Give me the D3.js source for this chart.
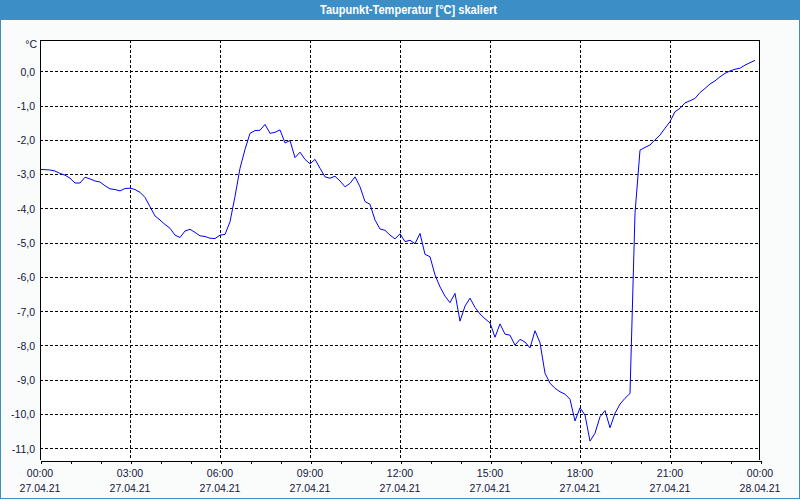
<!DOCTYPE html>
<html>
<head>
<meta charset="utf-8">
<script src="https://cdn.jsdelivr.net/npm/d3@7"></script>
<style>
  html, body { margin: 0; padding: 0; background: #f9fcfa; }
  svg { display: block; }
</style>
</head>
<body>
<svg id="chart" width="800" height="500"></svg>
<script>
// ---- data ----
const chartTitle = "Taupunkt-Temperatur [°C] skaliert";
const unitLabel = "°C";
const startHour = 0;        // 27.04.21 00:00
const stepMinutes = 10;     // sample interval
const dewPoint = [
  -2.86, -2.87, -2.88, -2.91, -2.98, -3.03, -3.12, -3.26, -3.26, -3.09,
  -3.14, -3.20, -3.23, -3.34, -3.43, -3.45, -3.49, -3.42, -3.41, -3.45,
  -3.53, -3.68, -3.95, -4.22, -4.34, -4.47, -4.58, -4.78, -4.85, -4.66,
  -4.61, -4.70, -4.80, -4.82, -4.87, -4.88, -4.78, -4.76, -4.39, -3.65,
  -2.83, -2.28, -1.81, -1.73, -1.72, -1.55, -1.81, -1.78, -1.71, -2.09,
  -2.02, -2.52, -2.36, -2.57, -2.70, -2.57, -2.83, -3.08, -3.12, -3.06,
  -3.20, -3.37, -3.27, -3.08, -3.37, -3.80, -3.88, -4.34, -4.60, -4.64,
  -4.78, -4.89, -4.74, -4.97, -4.93, -5.03, -4.73, -5.34, -5.41, -5.94,
  -6.29, -6.56, -6.75, -6.48, -7.29, -6.85, -6.62, -6.89, -7.08, -7.22,
  -7.34, -7.76, -7.37, -7.67, -7.70, -7.99, -7.82, -7.90, -8.07, -7.57,
  -7.92, -8.81, -9.10, -9.25, -9.35, -9.42, -9.57, -10.20, -9.82, -10.03,
  -10.79, -10.56, -10.08, -9.90, -10.40, -9.98, -9.71, -9.54, -9.40, -4.14,
  -2.30, -2.22, -2.15, -2.00, -1.86, -1.66, -1.47, -1.18, -1.08, -0.92,
  -0.86, -0.79, -0.62, -0.50, -0.37, -0.28, -0.16, -0.06, 0.01, 0.06,
  0.09, 0.18, 0.25, 0.32
];
const yTicks = [0, -1, -2, -3, -4, -5, -6, -7, -8, -9, -10, -11];
const hourTicks = [0,1,2,3,4,5,6,7,8,9,10,11,12,13,14,15,16,17,18,19,20,21,22,23,24];
const labelHours = [0, 3, 6, 9, 12, 15, 18, 21, 24];
const timeLabels = ["00:00","03:00","06:00","09:00","12:00","15:00","18:00","21:00","00:00"];
const dateLabels = ["27.04.21","27.04.21","27.04.21","27.04.21","27.04.21","27.04.21","27.04.21","27.04.21","28.04.21"];

// ---- layout ----
const W = 800, H = 500;
const plot = { left: 40, right: 760, top: 40, bottom: 460 };
const svg = d3.select("#chart");

const x = d3.scaleLinear().domain([0, 24]).range([plot.left, plot.right]);
const y = d3.scaleLinear().domain([0, -11]).range([71.3, 448.3]);

// outer frame
svg.append("rect").attr("x", 0.5).attr("y", 0.5).attr("width", W - 1).attr("height", H - 2)
  .attr("fill", "#f9fcfa").attr("stroke", "#3c8fc6").attr("stroke-width", 1);

// title bar
svg.append("rect").attr("x", 0).attr("y", 0).attr("width", W).attr("height", 20).attr("fill", "#3c8fc6");
svg.append("text").attr("x", 408.5).attr("y", 14)
  .attr("text-anchor", "middle").attr("fill", "#ffffff")
  .attr("font-family", "Liberation Sans, Arial, sans-serif").attr("font-size", 12).attr("font-weight", "bold")
  .attr("textLength", 177).attr("lengthAdjust", "spacingAndGlyphs")
  .text(chartTitle);

// plot area
svg.append("rect").attr("x", plot.left).attr("y", plot.top)
  .attr("width", plot.right - plot.left).attr("height", plot.bottom - plot.top)
  .attr("fill", "#ffffff");

// horizontal grid
svg.append("g").selectAll("line").data(yTicks).join("line")
  .attr("x1", plot.left).attr("x2", plot.right)
  .attr("y1", d => Math.round(y(d)) + 0.5).attr("y2", d => Math.round(y(d)) + 0.5)
  .attr("stroke", "#000").attr("stroke-width", 1).attr("stroke-dasharray", "3,2")
  .attr("shape-rendering", "crispEdges");

// vertical grid
svg.append("g").selectAll("line").data(labelHours.filter(h => h > 0 && h < 24)).join("line")
  .attr("x1", d => Math.round(x(d)) + 0.5).attr("x2", d => Math.round(x(d)) + 0.5)
  .attr("y1", plot.top).attr("y2", plot.bottom)
  .attr("stroke", "#000").attr("stroke-width", 1).attr("stroke-dasharray", "3,2")
  .attr("shape-rendering", "crispEdges");

// data line
const pts = dewPoint.map((v, i) => ({ h: startHour + i * stepMinutes / 60, v }));
svg.append("path").datum(pts)
  .attr("fill", "none").attr("stroke", "#0000ff").attr("stroke-width", 1)
  .attr("d", d3.line().x(d => x(d.h)).y(d => y(d.v)));

// plot border (left, top, right)
svg.append("path")
  .attr("d", `M${plot.left + 0.5},${plot.bottom}V${plot.top + 0.5}H${plot.right - 0.5}V${plot.bottom}`)
  .attr("fill", "none").attr("stroke", "#000").attr("shape-rendering", "crispEdges");

// x axis
const xAxis = d3.axisBottom(x).tickValues(hourTicks).tickSize(3).tickSizeOuter(0).tickFormat("");
const gx = svg.append("g").attr("transform", `translate(0.5,${plot.bottom + 0.5})`).call(xAxis);
gx.select(".domain").attr("stroke", "#000").attr("shape-rendering", "crispEdges");
gx.selectAll(".tick line").attr("stroke", "#000").attr("shape-rendering", "crispEdges");

const labelFont = "Liberation Sans, Arial, sans-serif";
const labelColor = "#14143c";
svg.append("g").selectAll("text").data(labelHours).join("text")
  .attr("x", d => x(d)).attr("y", 477)
  .attr("text-anchor", "middle").attr("fill", labelColor)
  .attr("font-family", labelFont).attr("font-size", 10.5)
  .text((d, i) => timeLabels[i]);
svg.append("g").selectAll("text").data(labelHours).join("text")
  .attr("x", d => x(d)).attr("y", 492)
  .attr("text-anchor", "middle").attr("fill", labelColor)
  .attr("font-family", labelFont).attr("font-size", 10.5)
  .text((d, i) => dateLabels[i]);

// y axis labels
const fmt = v => d3.format(".1f")(v).replace(".", ",").replace("−", "-");
const yAxis = d3.axisLeft(y).tickValues(yTicks).tickSize(0).tickPadding(5).tickFormat(fmt);
const gy = svg.append("g").attr("transform", `translate(${plot.left},0.5)`).call(yAxis);
gy.select(".domain").remove();
gy.selectAll("text").attr("fill", labelColor).attr("font-family", labelFont).attr("font-size", 10.5);

svg.append("text").attr("x", 37).attr("y", 48).attr("text-anchor", "end")
  .attr("fill", labelColor).attr("font-family", labelFont).attr("font-size", 10.5)
  .text(unitLabel);
</script>
</body>
</html>
